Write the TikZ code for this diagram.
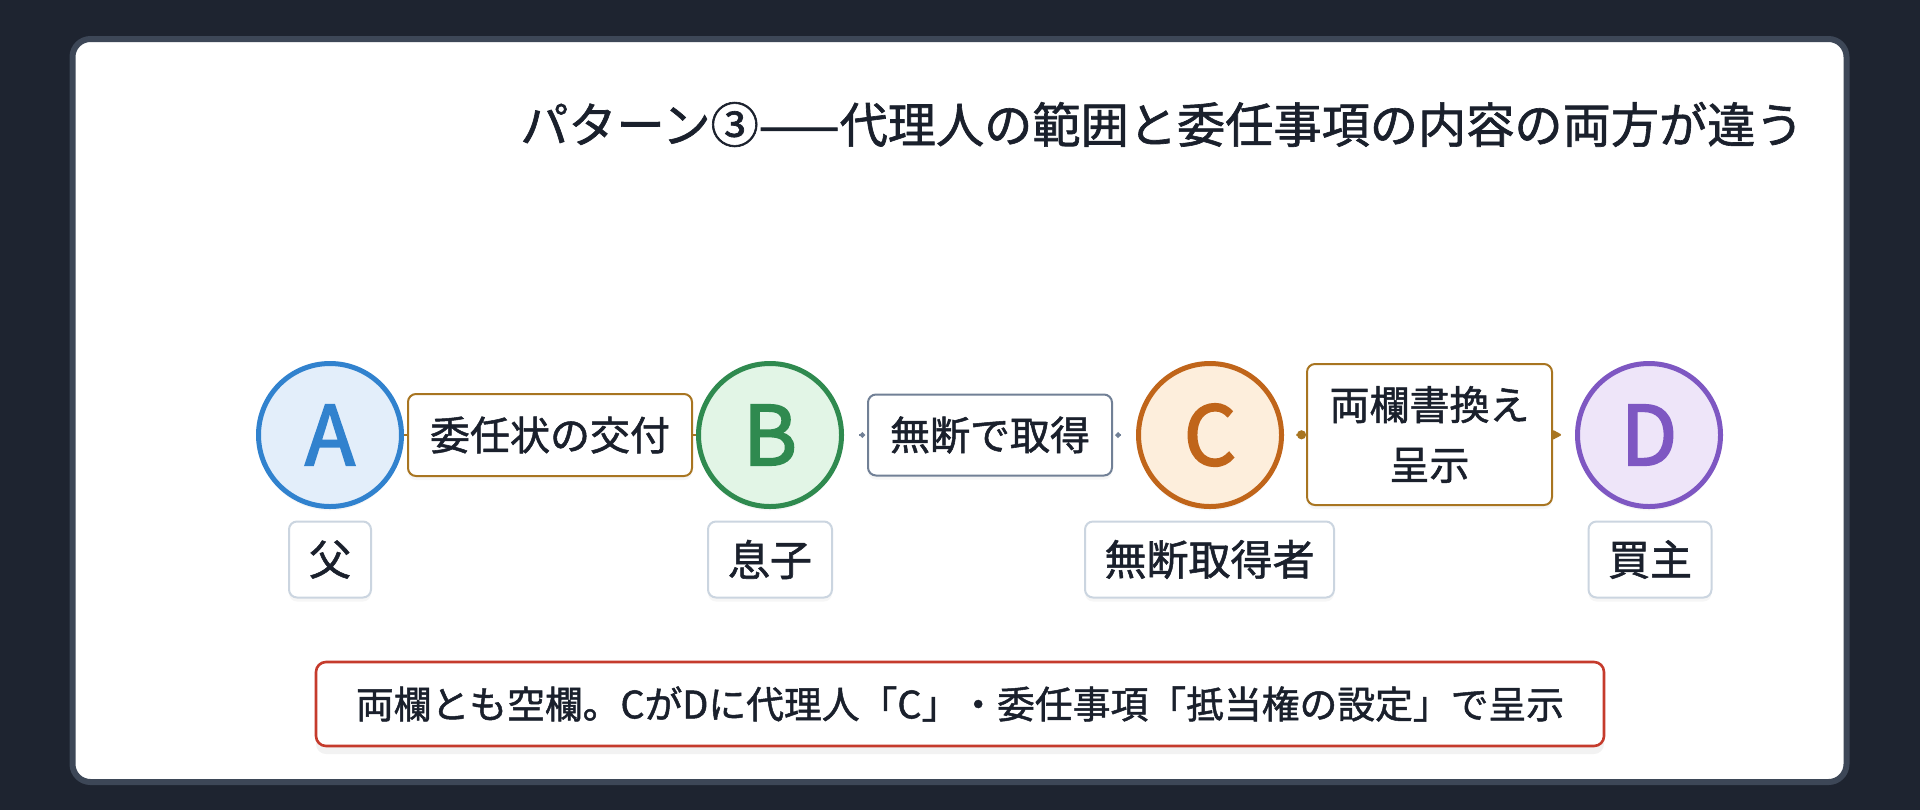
\documentclass[tikz,border=0pt]{standalone}
\usepackage{fontspec}
\setmainfont{Noto Sans CJK JP}[FakeBold=1.3]
\newfontfamily\letterfont{Noto Sans CJK JP}[FakeBold=2.5]
\usetikzlibrary{arrows.meta,shadows}
\definecolor{bgdark}{HTML}{1E2430}
\definecolor{cardborder}{HTML}{3D4757}
\definecolor{ink}{HTML}{1A202C}
\definecolor{ablue}{HTML}{3182CE}
\definecolor{afill}{HTML}{E3EEFA}
\definecolor{bgreen}{HTML}{2F8A4F}
\definecolor{bfill}{HTML}{E2F5E6}
\definecolor{corange}{HTML}{C0651A}
\definecolor{cfill}{HTML}{FDEEDC}
\definecolor{dpurple}{HTML}{7E57C2}
\definecolor{dfill}{HTML}{EEE5F9}
\definecolor{gold}{HTML}{A87521}
\definecolor{slate}{HTML}{718096}
\definecolor{lblborder}{HTML}{CBD5E0}
\definecolor{redb}{HTML}{C53B2C}
\pgfdeclarelayer{bglayer}
\pgfdeclarelayer{edgelayer}
\pgfsetlayers{bglayer,edgelayer,main}
\tikzset{
  party/.style={circle, draw=#1, text=#1, minimum size=71.5pt, inner sep=0pt, line width=2.5pt,
    font=\letterfont\fontsize{41pt}{41pt}\selectfont,
    drop shadow={opacity=0.07, shadow xshift=0pt, shadow yshift=-2pt}},
  actbox/.style={draw=#1, rounded corners=4pt, fill=white, line width=1pt, text=ink, inner sep=0pt,
    align=center, font=\fontsize{20pt}{30pt}\selectfont,
    drop shadow={opacity=0.07, shadow xshift=0pt, shadow yshift=-2pt}},
  rolebox/.style={draw=lblborder, rounded corners=4pt, fill=white, line width=1pt, text=ink, inner sep=0pt,
    minimum height=38pt, font=\fontsize{21pt}{21pt}\selectfont,
    drop shadow={opacity=0.07, shadow xshift=0pt, shadow yshift=-2pt}},
  notebox/.style={draw=redb, rounded corners=5pt, fill=white, line width=1.3pt, text=ink, inner sep=0pt,
    minimum width=644pt, minimum height=42pt, font=\fontsize{18.9pt}{18.9pt}\selectfont,
    drop shadow={opacity=0.10, shadow xshift=0pt, shadow yshift=-4pt}},
  goldlink/.style={draw=gold, line width=1pt},
  greylink/.style={draw=slate, line width=1pt},
}
\begin{document}
\begin{tikzpicture}[x=0.5pt,y=-0.5pt]
\begin{pgfonlayer}{bglayer}
\fill[bgdark] (0,0) rectangle (1920,810);
\draw[cardborder, line width=3pt, fill=white, rounded corners=9pt] (72.5,39) rectangle (1846.5,782);
\end{pgfonlayer}

\node[anchor=east, inner sep=0pt, text=ink, font=\fontsize{24.1pt}{24.1pt}\selectfont] (title) at (1804,124.5)
  {パターン③——代理人の範囲と委任事項の内容の両方が違う};

\node[party=ablue, fill=afill] (A) at (330,435) {A};
\node[party=bgreen, fill=bfill] (B) at (770,435) {B};
\node[party=corange, fill=cfill] (C) at (1210,435) {C};
\node[party=dpurple, fill=dfill] (D) at (1649,435) {D};

\node[actbox=gold, minimum width=142pt, minimum height=41pt] (e1) at (550,435) {委任状の交付};
\node[actbox=slate, minimum width=122pt, minimum height=40.5pt] (e2) at (990,435) {無断で取得};
\node[actbox=gold, minimum width=122.5pt, minimum height=70.5pt] (e3) at (1429.5,434.5) {両欄書換え\\呈示};

\node[rolebox, minimum width=41pt] (rA) at (330,559.5) {父};
\node[rolebox, minimum width=62pt] (rB) at (770,559.5) {息子};
\node[rolebox, minimum width=124.5pt] (rC) at (1209.5,559.5) {無断取得者};
\node[rolebox, minimum width=61.5pt] (rD) at (1650,559.5) {買主};

\node[notebox] (note) at (960,704) {両欄とも空欄。CがDに代理人「C」・委任事項「抵当権の設定」で呈示};

\begin{pgfonlayer}{edgelayer}
\draw[goldlink] (A) -- (e1);
\draw[goldlink] (e1) -- (B);
\draw[greylink, shorten <=7.5pt, shorten >=1pt, -{Circle[length=2.6pt]}] (B) -- (e2);
\draw[greylink, shorten <=1.2pt, shorten >=8pt, {Circle[length=2.6pt]}-] (e2) -- (C);
\draw[goldlink, shorten <=6.2pt, -{Circle[length=4.5pt]}] (C) -- (e3);
\draw[goldlink, shorten >=7pt, -{Triangle[length=5pt, width=5pt, round]}] (e3) -- (D);
\end{pgfonlayer}
\end{tikzpicture}
\end{document}
